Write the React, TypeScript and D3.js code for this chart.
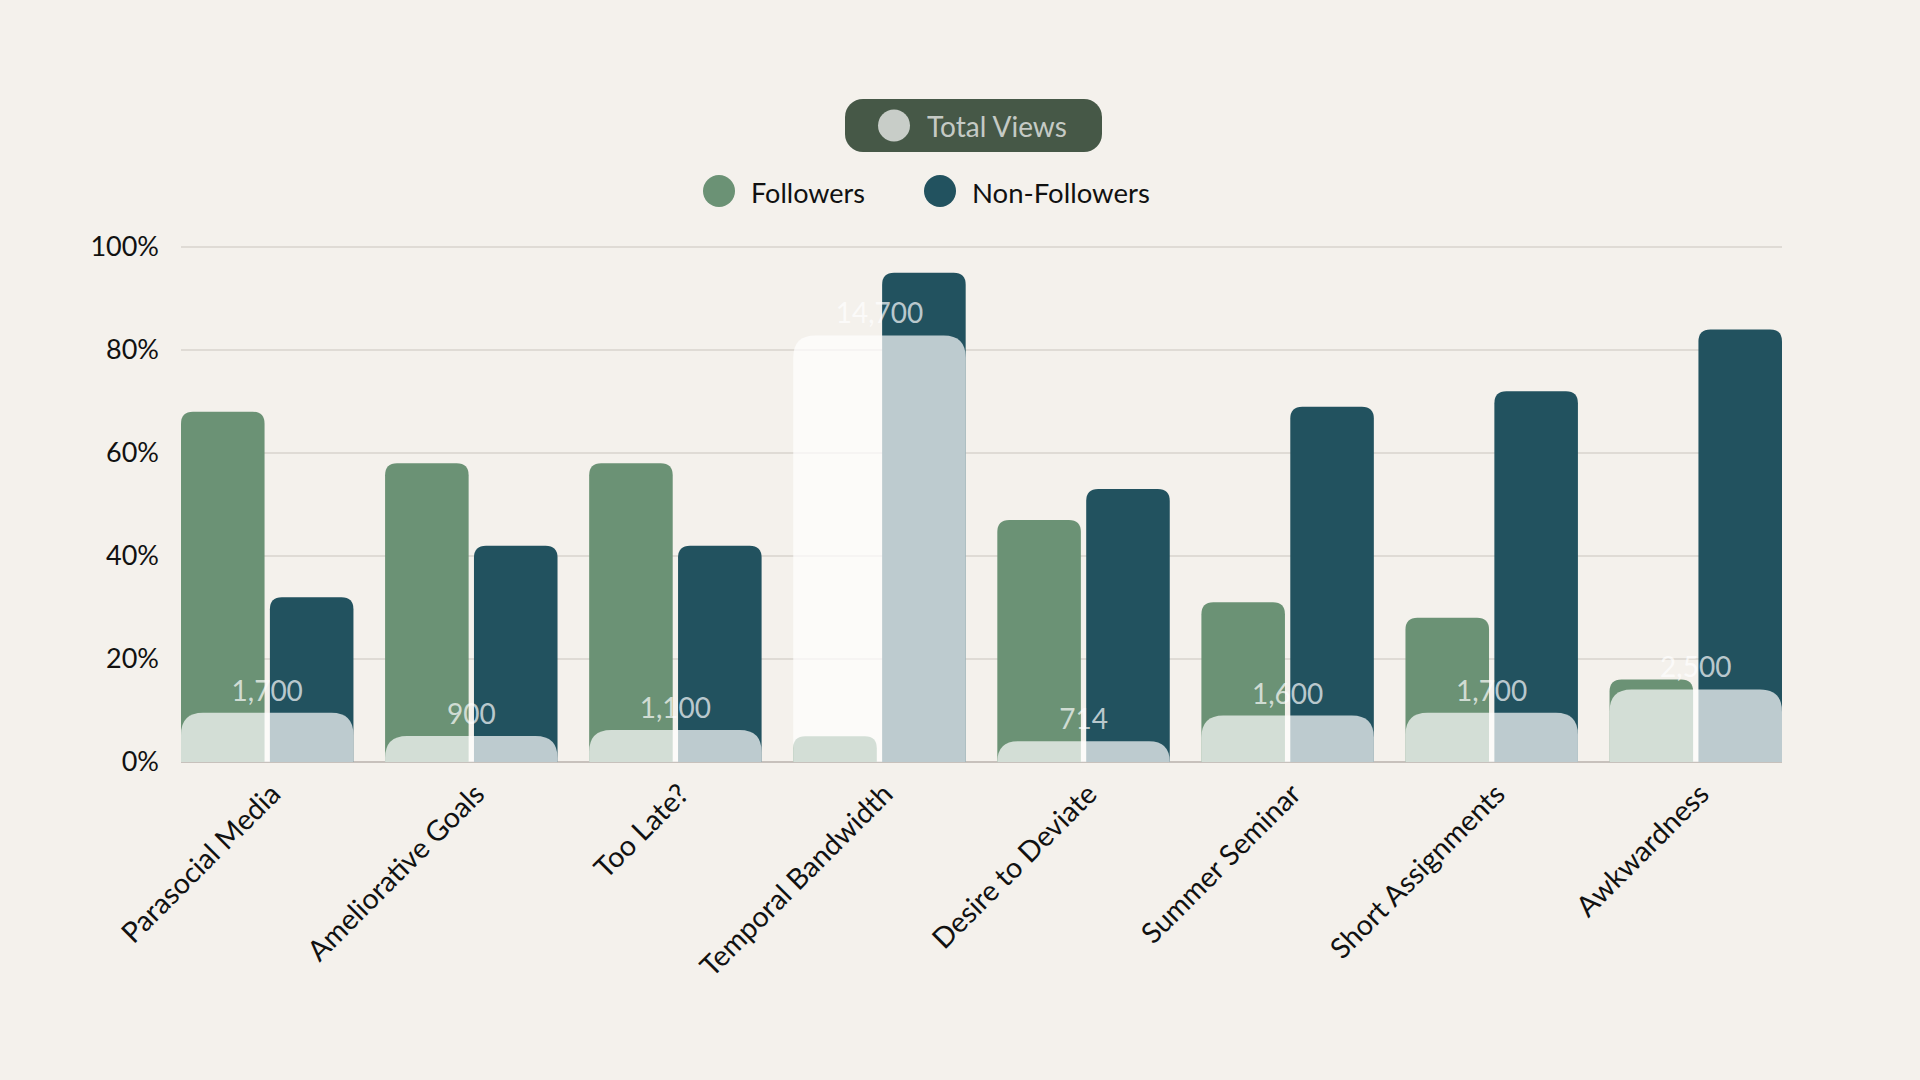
import React, { useEffect } from 'react';
import * as d3 from 'd3';

const categories = [
  'Parasocial Media',
  'Ameliorative Goals',
  'Too Late?',
  'Temporal Bandwidth',
  'Desire to Deviate',
  'Summer Seminar',
  'Short Assignments',
  'Awkwardness',
];
const followers = [68, 58, 58, 5, 47, 31, 28, 16];
const nonFollowers = [32, 42, 42, 95, 53, 69, 72, 84];
const totalViews = [1700, 900, 1100, 14700, 714, 1600, 1700, 2500];
const yTicks = [0, 20, 40, 60, 80, 100];
const seriesKeys = ['Followers', 'Non-Followers'];

const width = 1920;
const height = 1080;
const margin = { top: 247, right: 138, bottom: 318, left: 181 };

const BG = '#f4f1ec';
const GREEN = '#6b9275';
const TEAL = '#22525f';
const PILL = '#465847';
const VEIL = 'rgba(255,255,255,0.7)';
const FONT = 'Lato, "Noto Sans", sans-serif';

// rect with only the top corners rounded
const topRounded = (x: number, y: number, w: number, h: number, r: number) => {
  const rr = Math.max(0, Math.min(r, h, w / 2));
  return `M${x},${y + h}V${y + rr}Q${x},${y} ${x + rr},${y}H${x + w - rr}Q${x + w},${y} ${x + w},${y + rr}V${y + h}Z`;
};

const App = () => {
  useEffect(() => {
    document.body.style.margin = '0';
    document.body.style.background = BG;
  }, []);

  const x0 = d3.scaleBand()
    .domain(categories)
    .range([margin.left, width - margin.right])
    .paddingInner(0.155)
    .paddingOuter(0);

  const x1 = d3.scaleBand()
    .domain(seriesKeys)
    .range([0, x0.bandwidth()])
    .paddingInner(0.06);

  const y = d3.scaleLinear()
    .domain([0, 100])
    .range([height - margin.bottom, margin.top]);

  // total views ride on their own hidden axis
  const yViews = d3.scaleLinear()
    .domain([0, 17750])
    .range([height - margin.bottom, margin.top]);

  const fmt = d3.format(',');
  const base = y(0);

  return (
    <svg width={width} height={height} style={{ display: 'block', background: BG, fontFamily: FONT }}>
      <rect width={width} height={height} fill={BG} />

      {/* legend */}
      <g>
        <rect x={845} y={99} width={257} height={53} rx={18} fill={PILL} />
        <circle cx={894} cy={125.5} r={16} fill={VEIL} />
        <text x={927} y={126} dominantBaseline="central" fontSize={28} fill={VEIL}>Total Views</text>

        <circle cx={719} cy={191} r={16} fill={GREEN} />
        <text x={751} y={192} dominantBaseline="central" fontSize={27} fill="#111">Followers</text>
        <circle cx={940} cy={191} r={16} fill={TEAL} />
        <text x={972} y={192} dominantBaseline="central" fontSize={27.5} fill="#111">Non-Followers</text>
      </g>

      {/* grid + y ticks */}
      <g>
        {yTicks.map(t => (
          <g key={t}>
            <line
              x1={margin.left} x2={width - margin.right}
              y1={y(t)} y2={y(t)}
              stroke={t === 0 ? '#b9b0ac' : '#d8d3ce'}
              strokeWidth={1.5}
            />
            <text x={159} y={y(t)} dy="0.35em" textAnchor="end" fontSize={27} fill="#111">
              {t}%
            </text>
          </g>
        ))}
      </g>

      {/* grouped bars */}
      <g>
        {categories.map((c, i) => {
          const vals = [followers[i], nonFollowers[i]];
          return (
            <g key={c} transform={`translate(${x0(c)},0)`}>
              {seriesKeys.map((k, j) => (
                <path
                  key={k}
                  d={topRounded(x1(k)!, y(vals[j]), x1.bandwidth(), base - y(vals[j]), 12)}
                  fill={j === 0 ? GREEN : TEAL}
                />
              ))}
            </g>
          );
        })}
      </g>

      {/* total views veil over each group */}
      <g>
        {categories.map((c, i) => (
          <path
            key={c}
            d={topRounded(x0(c)!, yViews(totalViews[i]), x0.bandwidth(), base - yViews(totalViews[i]), 22)}
            fill={VEIL}
          />
        ))}
      </g>

      {/* view counts */}
      <g>
        {categories.map((c, i) => (
          <text
            key={c}
            x={x0(c)! + x0.bandwidth() / 2}
            y={yViews(totalViews[i]) - 12}
            textAnchor="middle"
            fontSize={28}
            fill={VEIL}
          >
            {fmt(totalViews[i])}
          </text>
        ))}
      </g>

      {/* category labels */}
      <g>
        {categories.map(c => {
          const cx = x0(c)! + x0.bandwidth() / 2 + 15;
          return (
            <text
              key={c}
              transform={`translate(${cx},${base + 34}) rotate(-45)`}
              textAnchor="end"
              fontSize={28.5}
              fill="#111"
            >
              {c}
            </text>
          );
        })}
      </g>
    </svg>
  );
};

export default App;
